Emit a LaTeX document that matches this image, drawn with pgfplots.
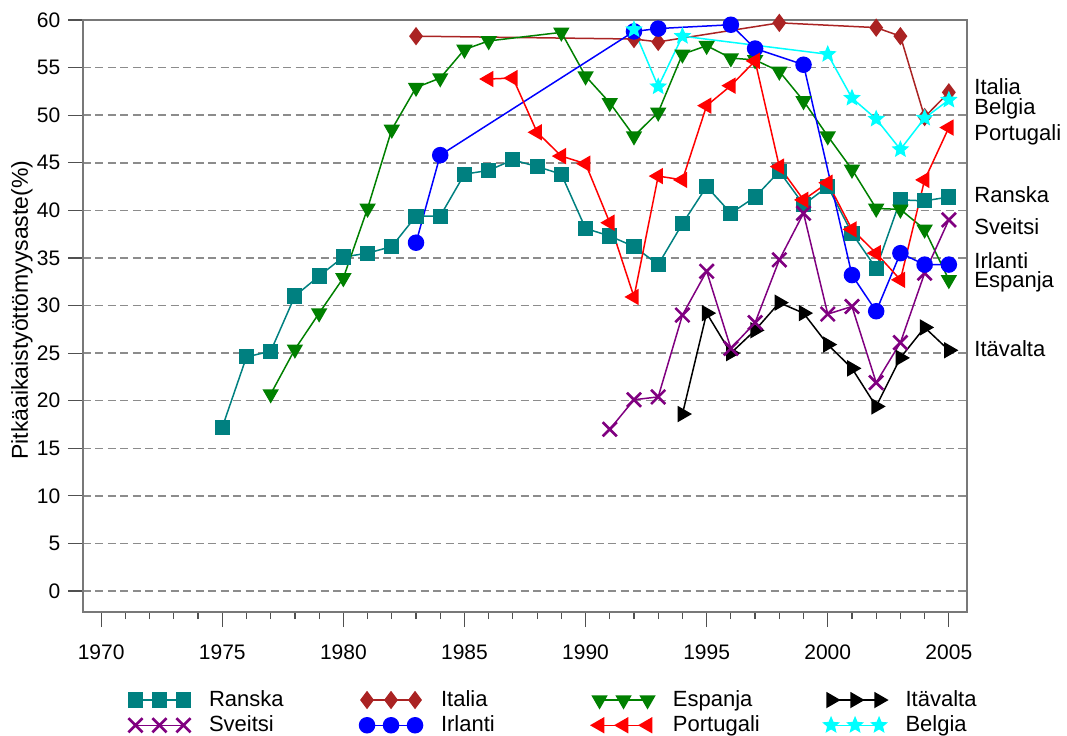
\documentclass[border=0pt]{standalone}
\usepackage{pgfplots}
\pgfplotsset{compat=1.18}
\usepackage{fontspec}
\setmainfont{Liberation Sans}
\definecolor{cteal}{RGB}{0,128,128}
\definecolor{cbrown}{RGB}{170,35,35}
\definecolor{cgreen}{RGB}{0,128,0}
\definecolor{cblue}{RGB}{0,0,255}
\definecolor{cred}{RGB}{255,0,0}
\definecolor{cpurple}{RGB}{128,0,128}
\definecolor{ccyan}{RGB}{0,255,255}
\definecolor{cgrid}{RGB}{140,140,140}
\definecolor{cframe}{RGB}{120,120,120}
\definecolor{ctick}{RGB}{80,80,80}
\pgfdeclareplotmark{fstar}{%
  \pgfpathmoveto{\pgfpointpolar{90}{\pgfplotmarksize}}%
  \pgfpathlineto{\pgfpointpolar{126}{0.45\pgfplotmarksize}}%
  \pgfpathlineto{\pgfpointpolar{162}{\pgfplotmarksize}}%
  \pgfpathlineto{\pgfpointpolar{198}{0.45\pgfplotmarksize}}%
  \pgfpathlineto{\pgfpointpolar{234}{\pgfplotmarksize}}%
  \pgfpathlineto{\pgfpointpolar{270}{0.45\pgfplotmarksize}}%
  \pgfpathlineto{\pgfpointpolar{306}{\pgfplotmarksize}}%
  \pgfpathlineto{\pgfpointpolar{342}{0.45\pgfplotmarksize}}%
  \pgfpathlineto{\pgfpointpolar{18}{\pgfplotmarksize}}%
  \pgfpathlineto{\pgfpointpolar{54}{0.45\pgfplotmarksize}}%
  \pgfpathclose
  \pgfusepathqfillstroke}
\begin{document}
\fontsize{11}{13}\selectfont
\begin{tikzpicture}
\useasboundingbox (0,0) rectangle (533.5pt,367.5pt);
\begin{axis}[
  at={(41.5pt,61.5pt)}, anchor=south west,
  scale only axis, width=442pt, height=296pt,
  xmin=1969.25, xmax=2005.75, ymin=-2.2, ymax=60,
  clip=false,
  xtick={1970,1975,...,2005},
  minor x tick num=4,
  ytick={0,5,...,60},
  xtick pos=bottom, ytick pos=left,
  tick align=outside,
  major tick length=7.5pt, minor tick length=3.5pt,
  tick style={ctick, line width=0.6pt},
  axis line style={cframe, line width=0.75pt},
  ymajorgrids,
  major grid style={cgrid, dash pattern=on 4pt off 2.25pt, line width=0.75pt},
  /pgf/number format/assume math mode=true,
  /pgf/number format/set thousands separator={},
  tick label style={font=\fontsize{10.5}{12}\selectfont},
  xticklabel style={yshift=-5pt},
  ylabel={Pitkäaikaistyöttömyysaste(\%)},
  every axis y label/.style={at={(axis description cs:-0.069,0.51)}, rotate=90, anchor=center, font=\fontsize{11.5}{13}\selectfont},
  every axis plot/.append style={line width=0.75pt, mark options={solid}},
  legend columns=4,
  legend cell align=left,
  legend style={at={(0,0)}, anchor=north west, xshift=19.5pt, yshift=-35pt, draw=none, fill=none,
    font=\fontsize{11}{13}\selectfont, row sep=-1pt,
    /tikz/every odd column/.append style={column sep=7.25pt},
    /tikz/every even column/.append style={column sep=13.25pt}},
  legend image code/.code={\draw[#1,mark repeat=1,mark phase=1] plot coordinates {(0pt,0pt) (12pt,0pt) (24pt,0pt)};},
]
% Ranska
\addplot[color=cteal, mark=square*, mark size=3.4pt] coordinates {
(1975,17.2)(1976,24.6)(1977,25.2)(1978,31.0)(1979,33.1)(1980,35.1)(1981,35.5)(1982,36.2)(1983,39.4)(1984,39.4)(1985,43.8)(1986,44.2)(1987,45.3)(1988,44.6)(1989,43.8)(1990,38.1)(1991,37.3)(1992,36.2)(1993,34.3)(1994,38.6)(1995,42.5)(1996,39.7)(1997,41.4)(1998,44.1)(1999,40.6)(2000,42.5)(2001,37.6)(2002,33.9)(2003,41.1)(2004,41.0)(2005,41.4)};
\addlegendentry{\makebox[60pt][l]{Ranska}}
% Italia
\addplot[color=cbrown, mark=diamond*, mark size=4pt] coordinates {
(1983,58.3)(1992,58.0)(1993,57.7)(1998,59.7)(2002,59.2)(2003,58.3)(2004,49.8)(2005,52.4)};
\addlegendentry{\makebox[60pt][l]{Italia}}
% Espanja
\addplot[color=cgreen, mark=triangle*, mark size=4pt, mark options={rotate=180}] coordinates {
(1977,20.7)(1978,25.4)(1979,29.2)(1980,32.9)(1981,40.2)(1982,48.5)(1983,52.9)(1984,53.9)(1985,56.9)(1986,57.8)(1989,58.7)(1990,54.1)(1991,51.3)(1992,47.8)(1993,50.3)(1994,56.4)(1995,57.3)(1996,56.0)(1997,55.8)(1998,54.6)(1999,51.5)(2000,47.8)(2001,44.3)(2002,40.2)(2003,40.1)(2004,38.0)(2005,32.7)};
\addlegendentry{\makebox[60pt][l]{Espanja}}
% Itavalta
\addplot[color=black, mark=triangle*, mark size=4pt, mark options={rotate=-90}] coordinates {
(1994,18.6)(1995,29.2)(1996,25.0)(1997,27.4)(1998,30.3)(1999,29.2)(2000,25.9)(2001,23.4)(2002,19.4)(2003,24.5)(2004,27.7)(2005,25.3)};
\addlegendentry{\makebox[60pt][l]{Itävalta}}
% Sveitsi
\addplot[color=cpurple, mark=x, mark size=5pt, mark options={line width=1.3pt}] coordinates {
(1991,17.0)(1992,20.1)(1993,20.4)(1994,29.0)(1995,33.6)(1996,25.5)(1997,28.2)(1998,34.8)(1999,39.7)(2000,29.1)(2001,29.9)(2002,21.9)(2003,26.1)(2004,33.4)(2005,39.0)};
\addlegendentry{\makebox[60pt][l]{Sveitsi}}
% Irlanti
\addplot[color=cblue, mark=*, mark size=3.75pt] coordinates {
(1983,36.6)(1984,45.8)(1992,58.8)(1993,59.1)(1996,59.5)(1997,57.0)(1999,55.3)(2001,33.2)(2002,29.4)(2003,35.5)(2004,34.3)(2005,34.3)};
\addlegendentry{\makebox[60pt][l]{Irlanti}}
% Portugali
\addplot[color=cred, mark=triangle*, mark size=4pt, mark options={rotate=90}] coordinates {
(1986,53.8)(1987,53.9)(1988,48.2)(1989,45.7)(1990,44.9)(1991,38.7)(1992,30.9)(1993,43.6)(1994,43.2)(1995,51.0)(1996,53.1)(1997,55.7)(1998,44.6)(1999,41.1)(2000,42.9)(2001,38.0)(2002,35.5)(2003,32.7)(2004,43.2)(2005,48.7)};
\addlegendentry{\makebox[60pt][l]{Portugali}}
% Belgia
\addplot[color=ccyan, mark=fstar, mark size=4pt, mark options={line width=0.5pt}] coordinates {
(1992,59.0)(1993,53.0)(1994,58.3)(2000,56.4)(2001,51.8)(2002,49.6)(2003,46.4)(2004,49.7)(2005,51.6)};
\addlegendentry{\makebox[60pt][l]{Belgia}}
% right-hand labels
\begin{scope}[every node/.style={anchor=base west, inner sep=0pt, xshift=3.5pt, font=\fontsize{11}{13}\selectfont}]
\node at (axis cs:2005.75,52.15) {Italia};
\node at (axis cs:2005.75,50.05) {Belgia};
\node at (axis cs:2005.75,47.3) {Portugali};
\node at (axis cs:2005.75,40.8) {Ranska};
\node at (axis cs:2005.75,37.5) {Sveitsi};
\node at (axis cs:2005.75,33.9) {Irlanti};
\node at (axis cs:2005.75,31.9) {Espanja};
\node at (axis cs:2005.75,24.6) {Itävalta};
\end{scope}
\end{axis}
\end{tikzpicture}
\end{document}
